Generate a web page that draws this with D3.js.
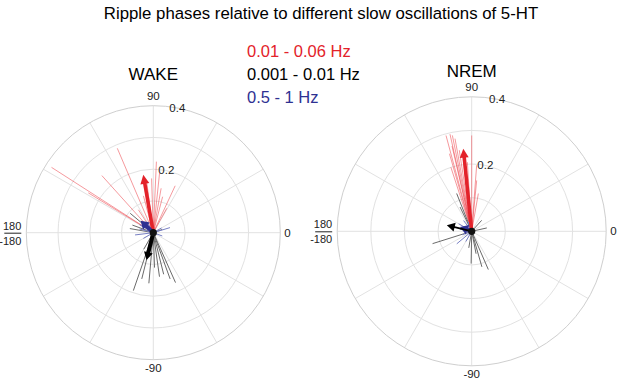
<!DOCTYPE html>
<html>
<head>
<meta charset="utf-8">
<script src="https://cdn.jsdelivr.net/npm/d3@7"></script>
<style>
  body { margin: 0; background: #fff; }
  text { font-family: "Liberation Sans", Arial, sans-serif; }
</style>
</head>
<body>
<div id="chart"></div>
<script>
"use strict";

// [angle in degrees, vector length]
var wakeRed = [[147.3, 0.381], [148.5, 0.24], [113.1, 0.289], [132, 0.242], [91.8, 0.171],
               [87.5, 0.224], [65, 0.163], [75.5, 0.117], [80, 0.142], [97.4, 0.162],
               [123, 0.086], [61, 0.088], [105, 0.12], [84, 0.19]];
var wakeBlack = [[-109, 0.193], [-104, 0.15], [-95, 0.16], [-82, 0.14], [-76, 0.135],
                 [-70, 0.155], [-66, 0.172], [-88, 0.11], [140, 0.095], [160, 0.07],
                 [170, 0.075], [-120, 0.06], [20, 0.03]];
var wakeBlue = [[17, 0.055], [-173, 0.058], [-150, 0.036], [150, 0.05], [165, 0.045],
                [30, 0.03], [-20, 0.03], [120, 0.04]];
var wakeMean = { red: [99.8, 0.185], black: [-104, 0.089], blue: [136.5, 0.055] };

var nremRed = [[105, 0.295], [102.6, 0.296], [101.4, 0.291], [100.2, 0.28], [90, 0.285],
               [106, 0.24], [108, 0.2], [84.4, 0.152], [80, 0.114], [93.6, 0.206],
               [98.7, 0.244], [96.5, 0.2], [103, 0.26], [85.7, 0.197]];
var nremBlack = [[-162.5, 0.122], [111.7, 0.121], [12.5, 0.046], [47.7, 0.044], [-91, 0.096],
                 [-74, 0.11], [-66.5, 0.124], [-79, 0.068], [115.6, 0.08], [-100, 0.05]];
var nremBlue = [[-140, 0.058], [127, 0.04], [150, 0.045], [170, 0.035], [-160, 0.03],
                [110, 0.03], [-120, 0.035]];
var nremMean = { red: [95.8, 0.247], black: [166.5, 0.076], blue: [159.6, 0.037] };

var ringValues = [0.1, 0.2, 0.3, 0.4];
var ringLabels = [0.2, 0.4];
var spokeAngles = [0, 30, 60, 90, 120, 150, 180, 210, 240, 270, 300, 330];
var legendLabels = ["0.01 - 0.06 Hz", "0.001 - 0.01 Hz", "0.5 - 1 Hz"];

var W = 617, H = 381;
var col = {
  red: "#e3222a", redThin: "rgba(236,70,76,0.55)",
  black: "#000", blackThin: "#6a6a6a",
  blue: "#2e3192", blueThin: "#7880c4"
};

var svg = d3.select("#chart").append("svg")
            .attr("width", W).attr("height", H);

svg.append("text")
   .attr("x", 321).attr("y", 19)
   .attr("text-anchor", "middle")
   .style("font-size", "16.8px")
   .text("Ripple phases relative to different slow oscillations of 5-HT");

var legendColors = [col.red, col.black, col.blue];
svg.selectAll(".legend")
   .data(legendLabels)
   .enter()
   .append("text")
   .attr("x", 247)
   .attr("y", function (d, i) { return 57 + i * 23; })
   .attr("fill", function (d, i) { return legendColors[i]; })
   .style("font-size", "16.5px")
   .text(function (d) { return d; });

var angle = d3.scaleLinear().domain([0, 360]).range([0, 2 * Math.PI]);

var polar = function (opt) {
  var r = d3.scaleLinear().domain([0, 0.4]).range([0, opt.R]);
  var px = function (a, v) { return r(v) * Math.cos(angle(a)); };
  var py = function (a, v) { return -r(v) * Math.sin(angle(a)); };

  svg.append("text")
     .attr("x", opt.cx).attr("y", opt.titleY)
     .attr("text-anchor", "middle")
     .style("font-size", "17px")
     .text(opt.title);

  var g = svg.append("g")
             .attr("transform", "translate(" + opt.cx + "," + opt.cy + ")");

  g.selectAll(".spoke")
   .data(spokeAngles)
   .enter()
   .append("line")
   .attr("x1", 0).attr("y1", 0)
   .attr("x2", function (d) { return px(d, 0.4); })
   .attr("y2", function (d) { return py(d, 0.4); })
   .attr("stroke", "#e2e2e2")
   .attr("stroke-width", 1);

  g.selectAll(".ring")
   .data(ringValues)
   .enter()
   .append("circle")
   .attr("r", function (d) { return r(d); })
   .attr("fill", "none")
   .attr("stroke", function (d) { return d == 0.4 ? "#cfcfcf" : "#e2e2e2"; })
   .attr("stroke-width", 1);

  g.selectAll(".rlabel")
   .data(ringLabels)
   .enter()
   .append("text")
   .attr("x", function (d) { return px(80, d) + 2; })
   .attr("y", function (d) { return py(80, d) + 4; })
   .attr("text-anchor", "middle")
   .style("font-size", "11.5px")
   .attr("fill", "#222")
   .text(function (d) { return d; });

  // angle labels
  g.append("text").attr("x", 0).attr("y", -opt.R - 6)
   .attr("text-anchor", "middle").style("font-size", "11.5px").attr("fill", "#222").text("90");
  g.append("text").attr("x", 0).attr("y", opt.R + 12)
   .attr("text-anchor", "middle").style("font-size", "11.5px").attr("fill", "#222").text("-90");
  g.append("text").attr("x", opt.R + 4).attr("y", 4)
   .attr("text-anchor", "start").style("font-size", "11.5px").attr("fill", "#222").text("0");
  g.append("text").attr("x", -opt.R - 5).attr("y", -3)
   .attr("text-anchor", "end").style("font-size", "11px").attr("fill", "#222").text("180");
  g.append("text").attr("x", -opt.R - 5).attr("y", 12)
   .attr("text-anchor", "end").style("font-size", "11px").attr("fill", "#222").text("-180");
  g.append("line")
   .attr("x1", -opt.R - 22).attr("x2", -opt.R - 5)
   .attr("y1", 0.5).attr("y2", 0.5)
   .attr("stroke", "#222").attr("stroke-width", 1);

  var thin = function (data, color) {
    g.selectAll(null)
     .data(data)
     .enter()
     .append("line")
     .attr("x1", 0).attr("y1", 0)
     .attr("x2", function (d) { return px(d[0], d[1]); })
     .attr("y2", function (d) { return py(d[0], d[1]); })
     .attr("stroke", color)
     .attr("stroke-width", 1);
  };
  thin(opt.red, col.redThin);
  thin(opt.black, col.blackThin);
  thin(opt.blue, col.blueThin);

  var arrow = function (d, color, width, head, headW) {
    var a = angle(d[0]);
    var tx = px(d[0], d[1]), ty = py(d[0], d[1]);
    var ux = Math.cos(a), uy = -Math.sin(a);
    var bx = tx - ux * head, by = ty - uy * head;
    g.append("line")
     .attr("x1", 0).attr("y1", 0)
     .attr("x2", bx + ux).attr("y2", by + uy)
     .attr("stroke", color)
     .attr("stroke-width", width);
    g.append("path")
     .attr("d", "M" + tx + "," + ty +
                "L" + (bx - uy * headW) + "," + (by + ux * headW) +
                "L" + (bx + uy * headW) + "," + (by - ux * headW) + "Z")
     .attr("fill", color);
  };
  arrow(opt.mean.red, col.red, 3.6, 9, 4.5);
  arrow(opt.mean.blue, col.blue, 3.8, 8, 5);
  arrow(opt.mean.black, col.black, opt.blackW, 8, 4.5);

  g.append("circle")
   .attr("r", 3.6)
   .attr("fill", "#111");
};

polar({ cx: 153.3, cy: 232.7, R: 127, title: "WAKE", titleY: 80,
        red: wakeRed, black: wakeBlack, blue: wakeBlue, mean: wakeMean, blackW: 4 });
polar({ cx: 471.7, cy: 231.3, R: 134.5, title: "NREM", titleY: 77,
        red: nremRed, black: nremBlack, blue: nremBlue, mean: nremMean, blackW: 1.8 });
</script>
</body>
</html>
